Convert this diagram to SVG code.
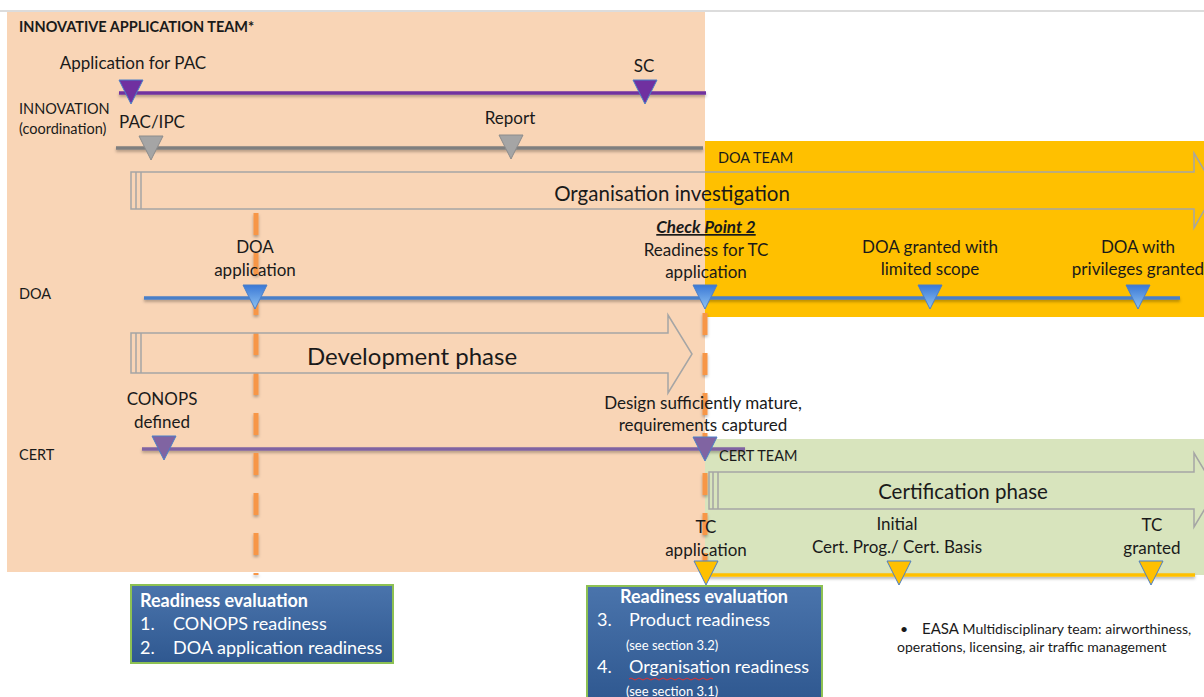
<svg xmlns="http://www.w3.org/2000/svg" width="1204" height="697" viewBox="0 0 1204 697">
<defs>
<style>
text{font-family:Lato,"Open Sans","Liberation Sans",sans-serif;fill:#1a1a1a}
.lbl{font-size:17px;text-anchor:middle}
.side{font-size:14.5px}
.wh{fill:#fff;font-size:18px}
.sm{fill:#fff;font-size:13px}
.arrow{fill:none;stroke:#a5a5a5;stroke-width:1.5}
.stripe{stroke:#a5a5a5;stroke-width:1.5}
.dash{stroke:#f79646;stroke-width:5;stroke-dasharray:22 18}
.tl{stroke-width:3.5}
</style>
<linearGradient id="gBlue" x1="0" y1="0" x2="0" y2="1"><stop offset="0" stop-color="#3a78d6"/><stop offset="1" stop-color="#8fc3f2"/></linearGradient>
<linearGradient id="gBox" x1="0" y1="0" x2="0" y2="1"><stop offset="0" stop-color="#4a74ac"/><stop offset="1" stop-color="#2f5890"/></linearGradient>
<filter id="sh" filterUnits="userSpaceOnUse" x="0" y="0" width="1204" height="697"><feDropShadow dx="0" dy="2" stdDeviation="1.5" flood-color="#000" flood-opacity="0.3"/></filter>
<path id="tri" d="M-12,-12 L12,-12 L0,12 Z"/>
</defs>

<g id="background">
<line x1="0" y1="11" x2="1204" y2="11" stroke="#dcdcdc" stroke-width="2"/>
<rect x="7" y="12" width="698" height="560" fill="#f9d5b6"/>
<rect x="705" y="141" width="499" height="176" fill="#ffc000"/>
<rect x="705" y="439" width="499" height="136" fill="#d8e4bd"/>
</g>

<g id="connectors" filter="url(#sh)">
<line class="dash" x1="256" y1="213" x2="256" y2="575"/>
<line class="dash" x1="705" y1="313" x2="705" y2="570"/>
<line class="tl" x1="119" y1="93" x2="706" y2="93" stroke="#7030a0"/>
<line class="tl" x1="116" y1="148" x2="703" y2="148" stroke="#7f7f7f"/>
<line class="tl" x1="144" y1="298" x2="1180" y2="298" stroke="#4a7fc8"/>
<line class="tl" x1="142" y1="449" x2="745" y2="449" stroke="#8064a2"/>
<line class="tl" x1="705" y1="575" x2="1195" y2="575" stroke="#ffc000"/>
</g>

<g id="team-labels">
<text x="19" y="32" class="side" font-weight="bold">INNOVATIVE APPLICATION TEAM*</text>
<text x="19" y="114" class="side">INNOVATION</text>
<text x="19" y="134" class="side">(coordination)</text>
<text x="19" y="299" class="side">DOA</text>
<text x="19" y="460" class="side">CERT</text>
<text x="718" y="163" class="side">DOA TEAM</text>
<text x="719" y="461" class="side">CERT TEAM</text>
</g>

<g id="org-investigation">
<path class="arrow" d="M131,172 H1194 V153 L1216,190 L1194,228 V209 H131 Z"/>
<line class="stripe" x1="136" y1="172" x2="136" y2="209"/>
<line class="stripe" x1="141" y1="172" x2="141" y2="209"/>
<text x="672" y="201" font-size="20.5" text-anchor="middle">Organisation investigation</text>
</g>

<g id="development-phase">
<path class="arrow" d="M131,333 H668 V315 L692,354 L668,393 V373 H131 Z"/>
<line class="stripe" x1="136" y1="333" x2="136" y2="373"/>
<line class="stripe" x1="141" y1="333" x2="141" y2="373"/>
<text x="412" y="365" font-size="24" text-anchor="middle">Development phase</text>
</g>

<g id="certification-phase">
<path class="arrow" d="M709,472 H1194 V453 L1216,490 L1194,527 V509 H709 Z"/>
<line class="stripe" x1="713" y1="472" x2="713" y2="509"/>
<line class="stripe" x1="718" y1="472" x2="718" y2="509"/>
<text x="963" y="499" font-size="20.5" text-anchor="middle">Certification phase</text>
</g>

<g id="m-application-pac">
<text x="133" y="69" class="lbl">Application for PAC</text>
<use href="#tri" x="131" y="92" fill="#7030a0" stroke="#4a7fc8" stroke-width="1"/>
</g>
<g id="m-sc">
<text x="644" y="72" class="lbl">SC</text>
<use href="#tri" x="645" y="92" fill="#7030a0" stroke="#4a7fc8" stroke-width="1"/>
</g>
<g id="m-pac-ipc">
<text x="152" y="128" class="lbl">PAC/IPC</text>
<use href="#tri" x="151" y="148" fill="#a5a5a5" stroke="#8c8c8c" stroke-width="1"/>
</g>
<g id="m-report">
<text x="510" y="124" class="lbl">Report</text>
<use href="#tri" x="511" y="147" fill="#a5a5a5" stroke="#8c8c8c" stroke-width="1"/>
</g>

<g id="m-doa-application">
<text x="255" y="253" class="lbl">DOA</text>
<text x="255" y="276" class="lbl">application</text>
<use href="#tri" x="255" y="297" fill="url(#gBlue)" stroke="#4a7fc8" stroke-width="1"/>
</g>
<g id="m-checkpoint2">
<text x="706" y="233" class="lbl" font-size="17.5" font-weight="bold" font-style="italic" text-decoration="underline">Check Point 2</text>
<text x="706" y="256" class="lbl">Readiness for TC</text>
<text x="706" y="278" class="lbl">application</text>
<use href="#tri" x="705" y="297" fill="url(#gBlue)" stroke="#4a7fc8" stroke-width="1"/>
</g>
<g id="m-doa-limited">
<text x="930" y="253" class="lbl">DOA granted with</text>
<text x="930" y="275" class="lbl">limited scope</text>
<use href="#tri" x="930" y="297" fill="url(#gBlue)" stroke="#4a7fc8" stroke-width="1"/>
</g>
<g id="m-doa-privileges">
<text x="1138" y="253" class="lbl">DOA with</text>
<text x="1138" y="275" class="lbl">privileges granted</text>
<use href="#tri" x="1138" y="297" fill="url(#gBlue)" stroke="#4a7fc8" stroke-width="1"/>
</g>

<g id="m-conops">
<text x="162" y="405" class="lbl">CONOPS</text>
<text x="162" y="428" class="lbl">defined</text>
<use href="#tri" x="164" y="448" fill="#8064a2" stroke="#4a7fc8" stroke-width="1"/>
</g>
<g id="m-design-mature">
<text x="703" y="409" class="lbl">Design sufficiently mature,</text>
<text x="703" y="431" class="lbl">requirements captured</text>
<use href="#tri" x="705" y="449" fill="#8064a2" stroke="#4a7fc8" stroke-width="1"/>
</g>

<g id="m-tc-application">
<text x="706" y="533" class="lbl">TC</text>
<text x="706" y="556" class="lbl">application</text>
<use href="#tri" x="706" y="573" fill="#ffc000" stroke="#4a7fc8" stroke-width="1"/>
</g>
<g id="m-initial">
<text x="897" y="530" class="lbl">Initial</text>
<text x="897" y="553" class="lbl">Cert. Prog./ Cert. Basis</text>
<use href="#tri" x="899" y="573" fill="#ffc000" stroke="#4a7fc8" stroke-width="1"/>
</g>
<g id="m-tc-granted">
<text x="1152" y="531" class="lbl">TC</text>
<text x="1152" y="554" class="lbl">granted</text>
<use href="#tri" x="1151" y="573" fill="#ffc000" stroke="#4a7fc8" stroke-width="1"/>
</g>

<g id="readiness-1">
<rect x="131" y="585" width="262" height="78" fill="url(#gBox)" stroke="#8dc153" stroke-width="2"/>
<text x="140" y="607" class="wh" font-weight="bold">Readiness evaluation</text>
<text x="140" y="630" class="wh">1.</text>
<text x="173" y="630" class="wh">CONOPS readiness</text>
<text x="140" y="654" class="wh">2.</text>
<text x="173" y="654" class="wh">DOA application readiness</text>
</g>

<g id="readiness-2">
<rect x="587" y="586" width="235" height="115" fill="url(#gBox)" stroke="#8dc153" stroke-width="2"/>
<text x="704" y="603" class="wh" font-weight="bold" text-anchor="middle">Readiness evaluation</text>
<text x="597" y="626" class="wh">3.</text>
<text x="629" y="626" class="wh">Product readiness</text>
<text x="626" y="650" class="sm">(see section 3.2)</text>
<text x="597" y="673" class="wh">4.</text>
<text x="629" y="673" class="wh">Organisation readiness</text>
<path d="M629,679 q2,-2 4,0 t4,0 t4,0 t4,0 t4,0 t4,0 t4,0 t4,0 t4,0 t4,0 t4,0 t4,0 t4,0 t4,0 t4,0 t4,0 t4,0 t4,0 t4,0 t4,0 t4,0" fill="none" stroke="#e03030" stroke-width="1"/>
<text x="626" y="696" class="sm">(see section 3.1)</text>
</g>

<g id="note">
<text x="900" y="634" font-size="14">•</text>
<text x="922" y="634" font-size="14"><tspan font-size="15">EASA</tspan> Multidisciplinary team: airworthiness,</text>
<text x="897" y="652" font-size="14">operations, licensing, air traffic management</text>
</g>
</svg>
